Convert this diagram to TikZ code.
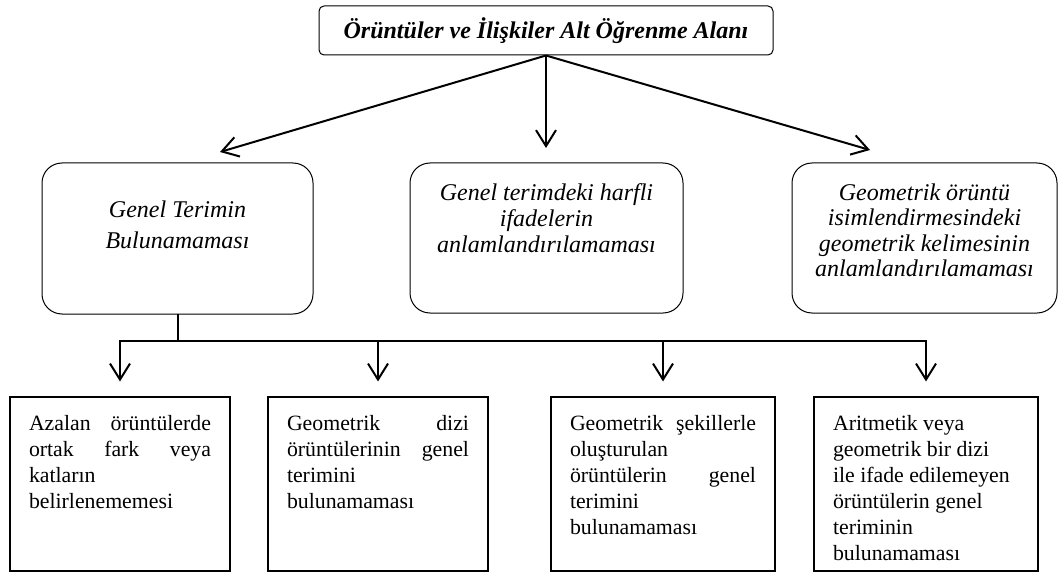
\documentclass[tikz,border=0pt]{standalone}
\usepackage{fontspec}
\setmainfont{Liberation Serif}
\usetikzlibrary{arrows.meta}
\begin{document}
\begin{tikzpicture}[x=1pt,y=-1pt,
  topbox/.style={draw, line width=1pt, rounded corners=5pt, inner sep=0pt,
    minimum width=454pt, minimum height=49pt,
    font=\fontsize{24}{28}\selectfont\bfseries\itshape},
  midbox/.style={draw, line width=1pt, rounded corners=20pt, inner sep=0pt},
  lowbox/.style={draw, line width=1.1pt, inner xsep=19pt, inner ysep=0pt},
  arr/.style={line width=2pt, -{Straight Barb[length=16pt,width=20pt]}},
  link/.style={line width=2pt, line cap=rect}]
\useasboundingbox (0,0) rectangle (1059,572);

% title
\node[topbox] (top) at (546,30.5) {Örüntüler ve İlişkiler Alt Öğrenme Alanı};

% second level
\node[midbox] (m1) at (177.5,238.5) {\parbox[c][151pt][t]{271pt}{\centering\itshape
  \fontsize{24}{31}\selectfont\rule{0pt}{54pt}Genel Terimin\\Bulunamaması}};
\node[midbox] (m2) at (546.5,238) {\parbox[c][150pt][t]{273pt}{\centering\itshape
  \fontsize{24}{26}\selectfont\rule{0pt}{37pt}Genel terimdeki harfli\\ifadelerin\\anlamlandırılamaması}};
\node[midbox] (m3) at (924.5,238) {\parbox[c][150pt][t]{265pt}{\centering\itshape
  \fontsize{24}{25.5}\selectfont\rule{0pt}{37pt}Geometrik örüntü\\isimlendirmesindeki\\geometrik kelimesinin\\anlamlandırılamaması}};

% third level
\newcommand{\jl}[1]{\makebox[\linewidth][s]{#1}}
\node[lowbox] (b1) at (120,484) {\parbox[c][174pt][t]{182pt}{\fontsize{21.8}{26}\selectfont
  \rule{0pt}{33pt}\jl{Azalan örüntülerde}\\\jl{ortak fark veya}\\katların\\belirlenememesi}};
\node[lowbox] (b2) at (378,484) {\parbox[c][174pt][t]{182pt}{\fontsize{21.8}{26}\selectfont
  \rule{0pt}{33pt}\jl{Geometrik dizi}\\\jl{örüntülerinin genel}\\terimini\\bulunamaması}};
\node[lowbox] (b3) at (663,484) {\parbox[c][174pt][t]{186pt}{\fontsize{21.8}{26}\selectfont
  \rule{0pt}{33pt}\jl{Geometrik şekillerle}\\oluşturulan\\\jl{örüntülerin genel}\\terimini\\bulunamaması}};
\node[lowbox] (b4) at (926,484) {\parbox[c][174pt][t]{186pt}{\fontsize{21.8}{26}\selectfont
  \rule{0pt}{33pt}Aritmetik veya\\geometrik bir dizi\\ile ifade edilemeyen\\örüntülerin genel\\teriminin\\bulunamaması}};

% arrows from the title
\coordinate (t1) at (220,152);
\coordinate (t2) at (546,148);
\coordinate (t3) at (870,150);
\draw[arr] (top.south) -- (t1);
\draw[arr] (top.south) -- (t2);
\draw[arr] (top.south) -- (t3);

% branching below the first box
\draw[link] (m1.south) -- ++(0,26) coordinate (bar);
\draw[link] (b1.north |- bar) -- (b4.north |- bar);
\foreach \b in {b1,b2,b3,b4}
  \draw[arr] (\b.north |- bar) -- ([yshift=15pt]\b.north);
\end{tikzpicture}
\end{document}
